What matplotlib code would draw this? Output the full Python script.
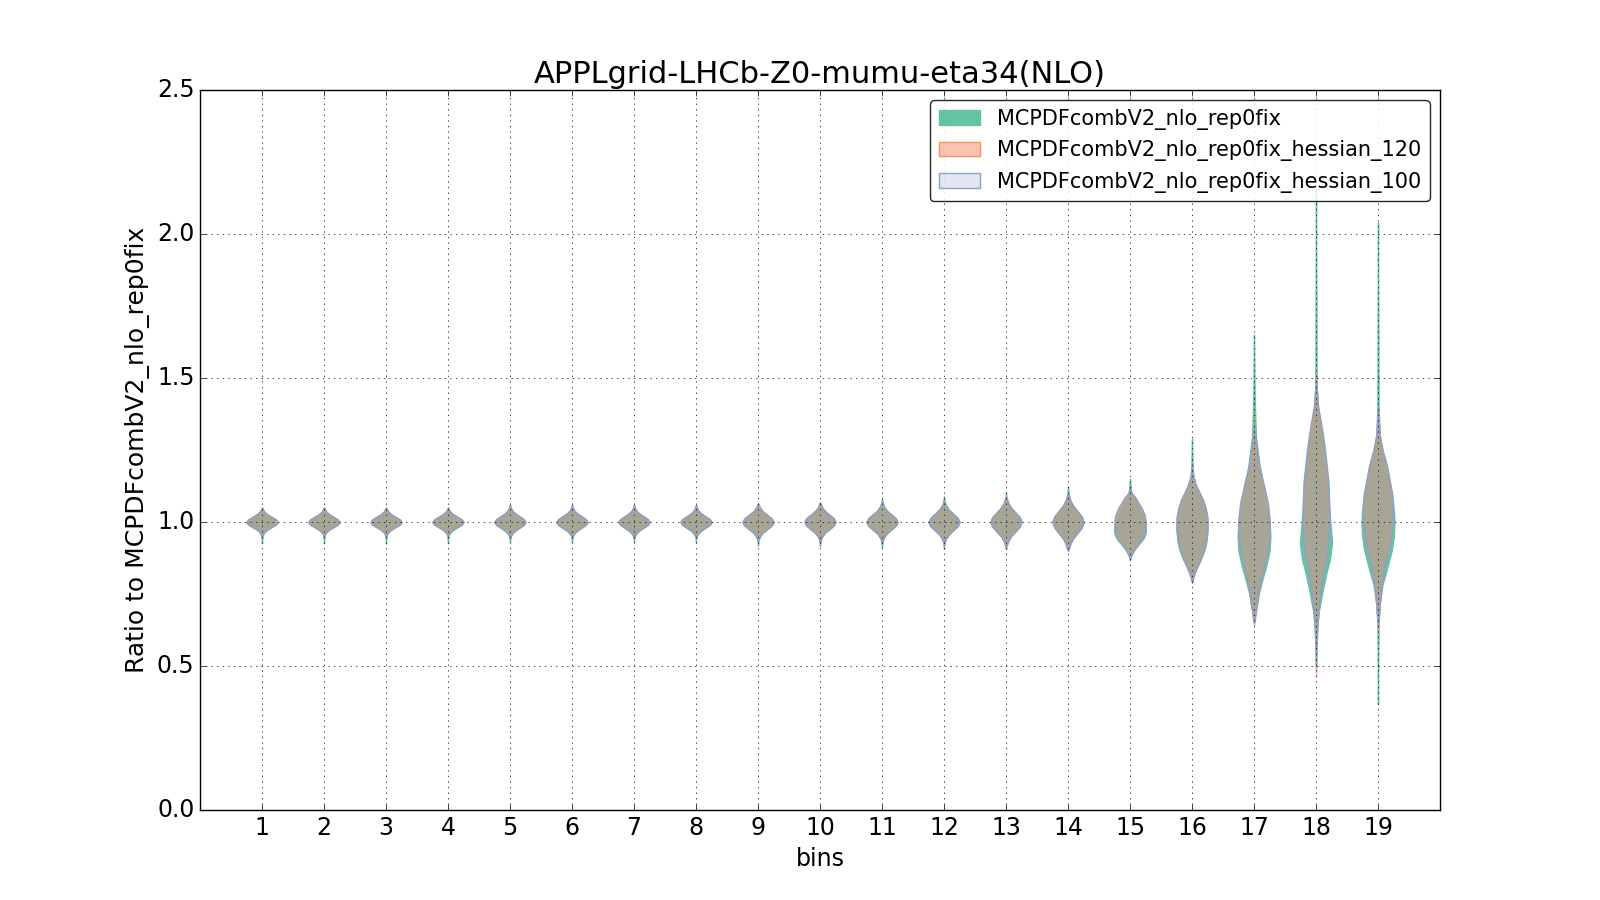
import matplotlib
matplotlib.use("Agg")
import matplotlib.pyplot as plt
import matplotlib.patches as mpatches
from matplotlib.colors import to_rgba

plt.style.use("classic")
plt.rcParams["figure.facecolor"] = "white"
plt.rcParams["savefig.facecolor"] = "white"
plt.rcParams["font.family"] = ["DejaVu Sans"]

title = "APPLgrid-LHCb-Z0-mumu-eta34(NLO)"
labels = ["MCPDFcombV2_nlo_rep0fix",
          "MCPDFcombV2_nlo_rep0fix_hessian_120",
          "MCPDFcombV2_nlo_rep0fix_hessian_100"]
colors = ["#66c2a5", "#fc8d62", "#8da0cb"]
face_alpha = [1.0, 0.5, 0.25]
edge_alpha = [1.0, 0.6, 1.0]

bins = list(range(1, 20))

# violin outlines: (ratio, full width) pairs, bins 1-14 look alike for all three sets
small_bodies = [
    [(0.955, 0.02), (0.964, 0.07), (0.973, 0.16), (0.982, 0.3), (0.991, 0.44), (1.0, 0.5),
     (1.009, 0.44), (1.018, 0.3), (1.027, 0.16), (1.036, 0.07), (1.045, 0.02)],
    [(0.955, 0.02), (0.964, 0.07), (0.973, 0.16), (0.982, 0.3), (0.991, 0.44), (1.0, 0.5),
     (1.009, 0.44), (1.018, 0.3), (1.027, 0.16), (1.036, 0.07), (1.045, 0.02)],
    [(0.955, 0.02), (0.964, 0.07), (0.973, 0.16), (0.982, 0.3), (0.991, 0.44), (1.0, 0.5),
     (1.009, 0.44), (1.018, 0.3), (1.027, 0.16), (1.036, 0.07), (1.045, 0.02)],
    [(0.955, 0.02), (0.964, 0.07), (0.973, 0.16), (0.982, 0.3), (0.991, 0.44), (1.0, 0.5),
     (1.009, 0.44), (1.018, 0.3), (1.027, 0.16), (1.036, 0.07), (1.045, 0.02)],
    [(0.95, 0.02), (0.96, 0.07), (0.97, 0.16), (0.98, 0.3), (0.99, 0.44), (1.0, 0.5),
     (1.01, 0.44), (1.02, 0.3), (1.03, 0.16), (1.04, 0.07), (1.05, 0.02)],
    [(0.95, 0.02), (0.96, 0.07), (0.97, 0.16), (0.98, 0.3), (0.99, 0.44), (1.0, 0.5),
     (1.01, 0.44), (1.02, 0.3), (1.03, 0.16), (1.04, 0.07), (1.05, 0.02)],
    [(0.95, 0.02), (0.96, 0.07), (0.97, 0.16), (0.98, 0.3), (0.99, 0.44), (1.0, 0.5),
     (1.01, 0.44), (1.02, 0.3), (1.03, 0.16), (1.04, 0.07), (1.05, 0.02)],
    [(0.95, 0.02), (0.96, 0.07), (0.97, 0.16), (0.98, 0.3), (0.99, 0.44), (1.0, 0.5),
     (1.01, 0.44), (1.02, 0.3), (1.03, 0.16), (1.04, 0.07), (1.05, 0.02)],
    [(0.94, 0.02), (0.952, 0.07), (0.964, 0.16), (0.976, 0.3), (0.988, 0.44), (1.0, 0.5),
     (1.012, 0.44), (1.024, 0.3), (1.036, 0.16), (1.048, 0.07), (1.06, 0.02)],
    [(0.938, 0.02), (0.95, 0.07), (0.963, 0.16), (0.975, 0.3), (0.988, 0.44), (1.0, 0.5),
     (1.013, 0.44), (1.025, 0.3), (1.038, 0.16), (1.05, 0.07), (1.063, 0.02)],
    [(0.935, 0.02), (0.948, 0.07), (0.961, 0.16), (0.974, 0.3), (0.987, 0.44), (1.0, 0.5),
     (1.013, 0.44), (1.026, 0.3), (1.039, 0.16), (1.052, 0.07), (1.065, 0.02)],
    [(0.93, 0.02), (0.944, 0.07), (0.958, 0.16), (0.972, 0.3), (0.986, 0.44), (1.0, 0.5),
     (1.014, 0.44), (1.028, 0.3), (1.042, 0.16), (1.056, 0.07), (1.07, 0.02)],
    [(0.918, 0.02), (0.934, 0.07), (0.951, 0.16), (0.967, 0.3), (0.984, 0.44), (1.0, 0.5),
     (1.017, 0.44), (1.033, 0.3), (1.05, 0.16), (1.066, 0.07), (1.083, 0.02)],
    [(0.905, 0.02), (0.924, 0.07), (0.943, 0.16), (0.962, 0.3), (0.981, 0.44), (1.0, 0.5),
     (1.019, 0.44), (1.038, 0.3), (1.057, 0.16), (1.076, 0.07), (1.095, 0.02)],
]

rep0fix_big = [
    [(0.885, 0.05), (0.9, 0.12), (0.913, 0.21), (0.925, 0.3), (0.938, 0.4), (0.95, 0.47),
     (0.965, 0.51), (0.98, 0.51), (1.0, 0.48), (1.025, 0.41), (1.05, 0.3), (1.065, 0.22),
     (1.087, 0.12), (1.1, 0.04)],
    [(0.808, 0.04), (0.825, 0.09), (0.843, 0.16), (0.86, 0.24), (0.877, 0.31), (0.905, 0.41),
     (0.935, 0.47), (0.97, 0.5), (1.0, 0.5), (1.02, 0.48), (1.047, 0.43), (1.075, 0.35),
     (1.1, 0.24), (1.13, 0.11), (1.16, 0.04), (1.2, 0.02)],
    [(0.67, 0.03), (0.7, 0.07), (0.75, 0.15), (0.8, 0.27), (0.85, 0.4), (0.9, 0.5), (0.95, 0.53),
     (1.0, 0.5), (1.1, 0.35), (1.2, 0.17), (1.3, 0.06), (1.4, 0.03), (1.45, 0.02)],
    [(0.56, 0.01), (0.62, 0.03), (0.69, 0.09), (0.76, 0.21), (0.83, 0.35), (0.87, 0.45),
     (0.93, 0.52), (1.0, 0.46), (1.08, 0.41), (1.14, 0.38), (1.2, 0.32), (1.26, 0.25),
     (1.32, 0.17), (1.4, 0.06), (1.45, 0.03), (1.5, 0.02)],
    [(0.55, 0.01), (0.65, 0.02), (0.72, 0.06), (0.78, 0.14), (0.85, 0.32), (0.905, 0.45),
     (0.95, 0.51), (1.0, 0.53), (1.04, 0.51), (1.095, 0.46), (1.14, 0.38), (1.195, 0.27),
     (1.25, 0.12), (1.3, 0.05), (1.4, 0.02)],
]

hessian120_big = [
    [(0.885, 0.04), (0.9, 0.1), (0.913, 0.18), (0.925, 0.26), (0.938, 0.35), (0.95, 0.42),
     (0.975, 0.48), (1.0, 0.5), (1.025, 0.47), (1.05, 0.37), (1.065, 0.28), (1.087, 0.16),
     (1.1, 0.05)],
    [(0.808, 0.04), (0.825, 0.09), (0.843, 0.16), (0.86, 0.23), (0.877, 0.3), (0.905, 0.38),
     (0.935, 0.45), (0.97, 0.49), (1.0, 0.5), (1.02, 0.49), (1.047, 0.44), (1.075, 0.36),
     (1.1, 0.25), (1.13, 0.12), (1.16, 0.04)],
    [(0.66, 0.03), (0.68, 0.05), (0.717, 0.1), (0.775, 0.17), (0.833, 0.3), (0.89, 0.43),
     (0.95, 0.5), (1.0, 0.51), (1.065, 0.42), (1.123, 0.27), (1.18, 0.14), (1.22, 0.1),
     (1.262, 0.07), (1.3, 0.03)],
    [(0.58, 0.02), (0.65, 0.05), (0.72, 0.1), (0.78, 0.17), (0.83, 0.24), (0.87, 0.32),
     (0.93, 0.4), (1.0, 0.41), (1.08, 0.38), (1.14, 0.34), (1.2, 0.28), (1.26, 0.22),
     (1.32, 0.15), (1.4, 0.05), (1.45, 0.03)],
    [(0.66, 0.02), (0.72, 0.06), (0.78, 0.12), (0.85, 0.22), (0.905, 0.34), (0.95, 0.43),
     (1.0, 0.48), (1.04, 0.47), (1.095, 0.42), (1.14, 0.34), (1.195, 0.24), (1.25, 0.12),
     (1.3, 0.05), (1.36, 0.02)],
]

hessian100_big = [
    [(0.885, 0.04), (0.9, 0.1), (0.913, 0.18), (0.925, 0.26), (0.938, 0.35), (0.95, 0.42),
     (0.975, 0.48), (1.0, 0.5), (1.025, 0.47), (1.05, 0.37), (1.065, 0.28), (1.087, 0.16),
     (1.1, 0.05)],
    [(0.808, 0.04), (0.825, 0.09), (0.843, 0.16), (0.86, 0.23), (0.877, 0.3), (0.905, 0.38),
     (0.935, 0.45), (0.97, 0.49), (1.0, 0.5), (1.02, 0.49), (1.047, 0.44), (1.075, 0.36),
     (1.1, 0.25), (1.13, 0.12), (1.16, 0.04)],
    [(0.68, 0.04), (0.717, 0.1), (0.775, 0.17), (0.833, 0.3), (0.89, 0.43), (0.95, 0.5),
     (1.0, 0.51), (1.065, 0.45), (1.123, 0.33), (1.18, 0.2), (1.22, 0.14), (1.262, 0.08),
     (1.3, 0.03)],
    [(0.58, 0.02), (0.65, 0.05), (0.72, 0.1), (0.78, 0.17), (0.83, 0.24), (0.87, 0.32),
     (0.93, 0.4), (1.0, 0.43), (1.08, 0.42), (1.14, 0.4), (1.2, 0.34), (1.26, 0.28),
     (1.32, 0.2), (1.4, 0.07), (1.45, 0.03)],
    [(0.68, 0.03), (0.72, 0.06), (0.78, 0.12), (0.85, 0.22), (0.905, 0.34), (0.95, 0.43),
     (1.0, 0.48), (1.04, 0.48), (1.095, 0.45), (1.14, 0.38), (1.195, 0.29), (1.25, 0.15),
     (1.3, 0.06), (1.36, 0.02)],
]

# end points of the thin tails
rep0fix_min = [0.926, 0.926, 0.926, 0.926, 0.93, 0.93, 0.93, 0.93, 0.918, 0.916,
               0.911, 0.907, 0.905, 0.9, 0.87, 0.79, 0.655, 0.51, 0.368]
rep0fix_max = [1.05, 1.05, 1.05, 1.05, 1.06, 1.06, 1.06, 1.06, 1.065, 1.068,
               1.08, 1.089, 1.103, 1.123, 1.15, 1.289, 1.65, 2.16, 2.04]
hessian120_min = [0.947, 0.947, 0.947, 0.947, 0.945, 0.945, 0.945, 0.945, 0.935, 0.93,
                  0.925, 0.92, 0.912, 0.903, 0.868, 0.79, 0.642, 0.462, 0.616]
hessian120_max = [1.05, 1.05, 1.05, 1.05, 1.058, 1.058, 1.058, 1.058, 1.063, 1.066,
                  1.072, 1.078, 1.09, 1.1, 1.12, 1.205, 1.36, 1.525, 1.387]
hessian100_min = [0.947, 0.947, 0.947, 0.947, 0.945, 0.945, 0.945, 0.945, 0.935, 0.93,
                  0.925, 0.92, 0.925, 0.903, 0.868, 0.79, 0.65, 0.495, 0.64]
hessian100_max = [1.05, 1.05, 1.05, 1.05, 1.058, 1.058, 1.058, 1.058, 1.063, 1.066,
                  1.072, 1.078, 1.08, 1.1, 1.12, 1.196, 1.34, 1.5, 1.4]

sets = [
    (small_bodies + rep0fix_big, rep0fix_min, rep0fix_max),
    (small_bodies + hessian120_big, hessian120_min, hessian120_max),
    (small_bodies + hessian100_big, hessian100_min, hessian100_max),
]


def violin_stats(body, lo, hi):
    coords = [lo] + [p[0] for p in body] + [hi]
    vals = [0.0] + [p[1] for p in body] + [0.0]
    return {"coords": coords, "vals": vals, "mean": 1.0, "median": 1.0,
            "min": lo, "max": hi}


fig = plt.figure(figsize=(16, 9), dpi=100)
ax = fig.add_subplot(111)
fig.subplots_adjust(left=0.125, right=0.9, bottom=0.1, top=0.9)

for (bodies, lows, highs), color, fa, ea in zip(sets, colors, face_alpha, edge_alpha):
    stats = [violin_stats(b, lo, hi) for b, lo, hi in zip(bodies, lows, highs)]
    widths = [max(p[1] for p in b) for b in bodies]
    parts = ax.violin(stats, positions=bins, widths=widths,
                      showmeans=False, showextrema=False, showmedians=False)
    for body in parts["bodies"]:
        body.set_alpha(None)
        body.set_facecolor(to_rgba(color, fa))
        body.set_edgecolor(to_rgba(color, ea))
        body.set_linewidth(1.0)

ax.set_xlim(0, 20)
ax.set_ylim(0, 2.5)
ax.set_xticks(bins)
ax.set_yticks([0.0, 0.5, 1.0, 1.5, 2.0, 2.5])
ax.tick_params(labelsize=17)
ax.grid(True)
ax.set_title(title, fontsize=22)
ax.set_xlabel("bins", fontsize=17)
ax.set_ylabel("Ratio to MCPDFcombV2_nlo_rep0fix", fontsize=18)

handles = [mpatches.Patch(facecolor=to_rgba(c, a), edgecolor=c, label=l)
           for c, a, l in zip(colors, face_alpha, labels)]
ax.legend(handles=handles, loc="upper right", fontsize=15, fancybox=True,
          framealpha=0.85, borderpad=0.4)

fig.savefig("out.png", dpi=100)
